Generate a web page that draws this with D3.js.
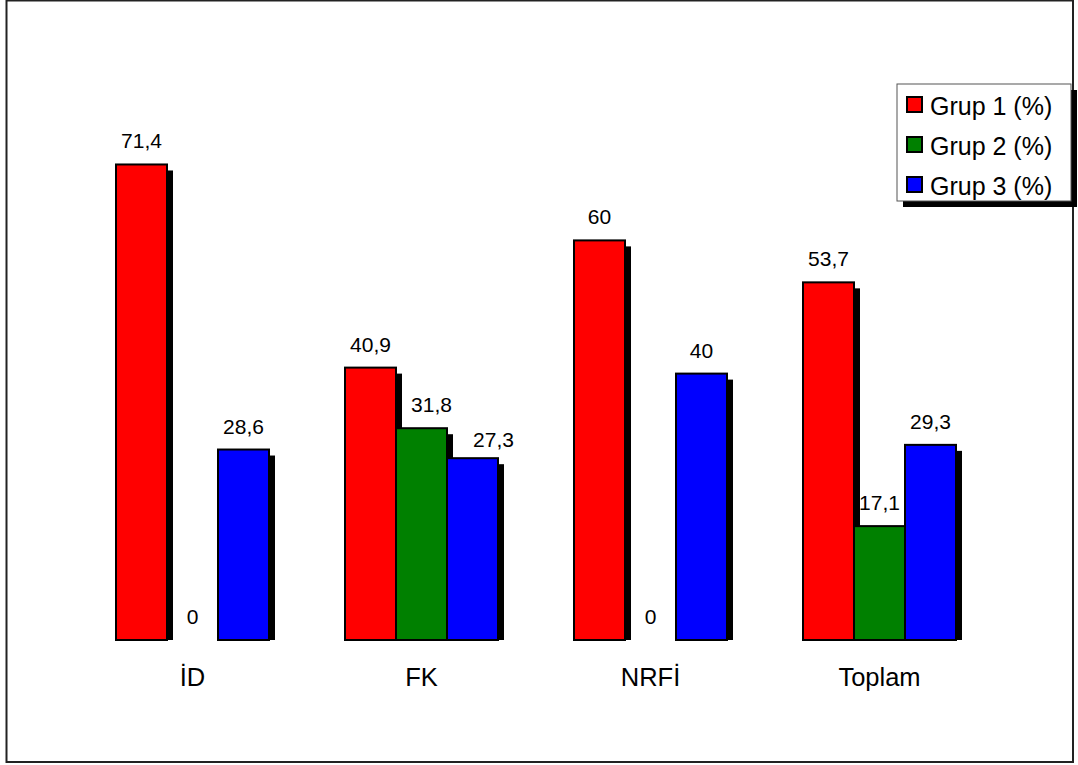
<!DOCTYPE html>
<html>
<head>
<meta charset="utf-8">
<script src="https://cdn.jsdelivr.net/npm/d3@7"></script>
<style>
  html, body { margin: 0; padding: 0; background: #fff; }
  svg { display: block; font-family: "Liberation Sans", Arial, sans-serif; }
</style>
</head>
<body>
<svg id="chart" width="1078" height="765"></svg>
<script>
// Categories and series
const categories = ["İD", "FK", "NRFİ", "Toplam"];
const seriesNames = ["Grup 1 (%)", "Grup 2 (%)", "Grup 3 (%)"];
const seriesColors = ["#ff0000", "#008000", "#0000ff"];
const grup1 = [71.4, 40.9, 60, 53.7];
const grup2 = [0, 31.8, 0, 17.1];
const grup3 = [28.6, 27.3, 40, 29.3];
const seriesValues = [grup1, grup2, grup3];

// Nudges for value labels that would crowd their neighbours ("cat|series" -> [dx, dy])
const labelNudge = { "FK|1": [10, 0], "FK|2": [21, 5] };

const svg = d3.select("#chart");
const baseY = 640;
const shadow = 6;

// Outer frame
svg.append("rect")
  .attr("x", 6.5).attr("y", 0.5)
  .attr("width", 1066.5).attr("height", 761.5)
  .attr("fill", "#fff").attr("stroke", "#222").attr("stroke-width", 2);

const x0 = d3.scaleBand()
  .domain(categories)
  .range([78, 994])
  .paddingInner(76 / 229)
  .paddingOuter(0.5 * 76 / 229);

const x1 = d3.scaleBand()
  .domain(d3.range(seriesNames.length))
  .range([0, x0.bandwidth()]);

const y = d3.scaleLinear().domain([0, 100]).range([baseY, baseY - 666]);

const bars = [];
categories.forEach((c, ci) => {
  seriesValues.forEach((vals, si) => {
    bars.push({ cat: c, si, v: vals[ci] });
  });
});

// Drop shadows first, then the bars on top
svg.append("g").selectAll("rect")
  .data(bars.filter(d => d.v > 0))
  .join("rect")
  .attr("x", d => x0(d.cat) + x1(d.si) + shadow)
  .attr("y", d => y(d.v) + shadow)
  .attr("width", x1.bandwidth())
  .attr("height", d => baseY - y(d.v) - shadow)
  .attr("fill", "#000");

svg.append("g").selectAll("rect")
  .data(bars.filter(d => d.v > 0))
  .join("rect")
  .attr("x", d => x0(d.cat) + x1(d.si))
  .attr("y", d => y(d.v))
  .attr("width", x1.bandwidth())
  .attr("height", d => baseY - y(d.v))
  .attr("fill", d => seriesColors[d.si])
  .attr("stroke", "#000")
  .attr("stroke-width", 2);

// Value labels
const nudge = d => labelNudge[d.cat + "|" + d.si] || [0, 0];
svg.append("g").selectAll("text")
  .data(bars)
  .join("text")
  .attr("x", d => x0(d.cat) + x1(d.si) + x1.bandwidth() / 2 + nudge(d)[0])
  .attr("y", d => y(d.v) - 16 + nudge(d)[1])
  .attr("text-anchor", "middle")
  .attr("font-size", 21)
  .attr("fill", "#000")
  .text(d => String(d.v).replace(".", ","));

// Category axis labels
svg.append("g").selectAll("text")
  .data(categories)
  .join("text")
  .attr("x", d => x0(d) + x0.bandwidth() / 2)
  .attr("y", 686)
  .attr("text-anchor", "middle")
  .attr("font-size", 25.5)
  .attr("fill", "#000")
  .text(d => d);

// Legend
const lg = svg.append("g");
const lx = 897, ly = 84, lw = 174, lh = 117;
lg.append("rect")
  .attr("x", lx + shadow).attr("y", ly + shadow)
  .attr("width", lw).attr("height", lh)
  .attr("fill", "#000");
lg.append("rect")
  .attr("x", lx).attr("y", ly)
  .attr("width", lw).attr("height", lh)
  .attr("fill", "#fff").attr("stroke", "#555").attr("stroke-width", 1);
seriesNames.forEach((name, i) => {
  const cy = 105 + i * 40;
  lg.append("rect")
    .attr("x", 907).attr("y", cy - 8)
    .attr("width", 15).attr("height", 15)
    .attr("fill", seriesColors[i])
    .attr("stroke", "#000").attr("stroke-width", 2);
  lg.append("text")
    .attr("x", 930).attr("y", cy + 10)
    .attr("font-size", 25)
    .attr("fill", "#000")
    .text(name);
});
</script>
</body>
</html>
